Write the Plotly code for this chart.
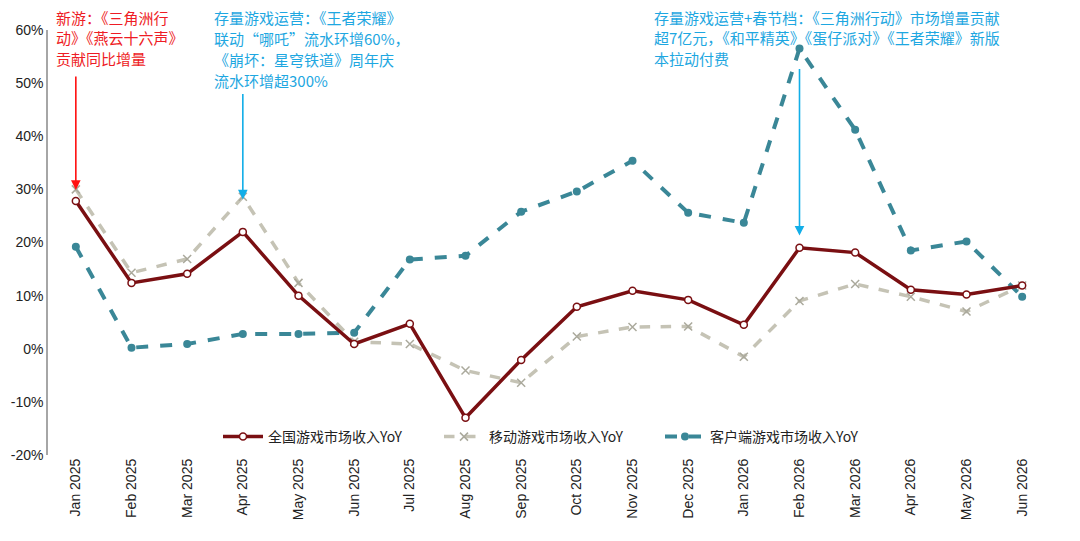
import plotly.graph_objects as go

# months on the category axis
months = ["Jan 2025", "Feb 2025", "Mar 2025", "Apr 2025", "May 2025", "Jun 2025",
          "Jul 2025", "Aug 2025", "Sep 2025", "Oct 2025", "Nov 2025", "Dec 2025",
          "Jan 2026", "Feb 2026", "Mar 2026", "Apr 2026", "May 2026", "Jun 2026"]

# YoY growth, in %
total_yoy = [27.8, 12.4, 14.1, 22.0, 10.0, 0.9, 4.7, -13.0, -2.1, 7.9, 10.9, 9.2,
             4.5, 19.0, 18.1, 11.1, 10.2, 11.9]
mobile_yoy = [30.0, 14.3, 16.9, 28.6, 12.4, 1.3, 0.9, -4.1, -6.4, 2.3, 4.1, 4.2,
              -1.5, 9.0, 12.2, 9.8, 7.0, 11.9]
client_yoy = [19.2, 0.2, 0.9, 2.8, 2.8, 3.0, 16.8, 17.5, 25.8, 29.6, 35.4, 25.6,
              23.7, 56.5, 41.2, 18.5, 20.2, 9.8]

names = ["全国游戏市场收入YoY", "移动游戏市场收入YoY", "客户端游戏市场收入YoY"]

yticks = [-20, -10, 0, 10, 20, 30, 40, 50, 60]
ytick_text = [str(v) + "%" for v in yticks]

RED = "#7a0f12"
GREY = "#c5c3b5"
TEAL = "#3a8797"

fig = go.Figure()

fig.add_trace(go.Scatter(
    x=months, y=mobile_yoy, name=names[1], mode="lines+markers", legendrank=2,
    line=dict(color=GREY, width=3.5, dash="dash"),
    marker=dict(symbol="x-thin", size=8, line=dict(color="#aaa99c", width=1.5)),
))
fig.add_trace(go.Scatter(
    x=months, y=client_yoy, name=names[2], mode="lines+markers", legendrank=3,
    line=dict(color=TEAL, width=4, dash="dash"),
    marker=dict(symbol="circle", size=8, color=TEAL),
))
fig.add_trace(go.Scatter(
    x=months, y=total_yoy, name=names[0], mode="lines+markers", legendrank=1,
    line=dict(color=RED, width=3.5),
    marker=dict(symbol="circle", size=7, color="white", line=dict(color=RED, width=1.5)),
))

cjk = "Noto Sans CJK SC"
red_txt = "#ee1c25"
blue_txt = "#1ea7e1"

# plot area in screen pixels: x 48..1050, y 30..455
def px(X):
    return (X - 48) / 1002.0

def py(Y):
    return (455 - Y) / 425.0

# each note: left pixel, line centres, lines, colour
notes = [
    (55, [18, 38, 58], ["新游：《三角洲行", "动》《燕云十六声》", "贡献同比增量"], red_txt),
    (213, [18, 39, 60, 80], ["存量游戏运营：《王者荣耀》", "联动“哪吒”流水环增60%，",
                             "《崩坏：星穹铁道》周年庆", "流水环增超300%"], blue_txt),
    (653, [18, 38, 58], ["存量游戏运营+春节档：《三角洲行动》市场增量贡献",
                         "超7亿元，《和平精英》《蛋仔派对》《王者荣耀》新版", "本拉动付费"], blue_txt),
]
for left, ys, lines, col in notes:
    for yy, line in zip(ys, lines):
        fig.add_annotation(x=px(left), y=py(yy), xref="paper", yref="paper", text=line,
                           showarrow=False, xanchor="left", yanchor="middle", align="left",
                           borderpad=0, font=dict(family=cjk, size=15, color=col))

# arrows
arrows = [("Jan 2025", 29.9, -115, "#ff1010"),
          ("Apr 2025", 28.1, -107, "#12aee8"),
          ("Feb 2026", 21.3, -168, "#12aee8")]
for xa, ya, ay, c in arrows:
    fig.add_annotation(x=xa, y=ya, xref="x", yref="y", text="", showarrow=True,
                       ax=0, ay=ay, arrowhead=2, arrowsize=1.2, arrowwidth=1.6,
                       arrowcolor=c, standoff=0)

fig.update_layout(
    width=1080, height=541,
    margin=dict(l=40, r=38, t=22, b=94),
    paper_bgcolor="white", plot_bgcolor="white",
    font=dict(family="Liberation Sans, Arial", size=13, color="#222"),
    showlegend=True,
    legend=dict(orientation="h", x=px(218), xanchor="left", y=py(437), yanchor="middle",
                font=dict(family=cjk, size=14, color="#222"), bgcolor="rgba(0,0,0,0)",
                entrywidth=166, entrywidthmode="pixels", itemwidth=40, tracegroupgap=0),
    xaxis=dict(type="category", categoryarray=months, range=[-0.5, 17.5],
               showgrid=False, showline=False, ticks="", tickangle=-90,
               automargin=False, tickfont=dict(size=14, color="#222")),
    xaxis2=dict(overlaying="x", anchor="free", position=0.25, range=[-0.5, 17.5],
                showgrid=False, showline=True, linecolor="#a6a6a6", linewidth=1.5,
                ticks="outside", ticklen=5, tickcolor="#a6a6a6",
                tickvals=[i - 0.5 for i in range(len(months) + 1)],
                showticklabels=False, zeroline=False),
    yaxis=dict(range=[-20, 60], tickvals=yticks, ticktext=ytick_text, showgrid=False,
               zeroline=False, showline=True, linecolor="#a6a6a6", linewidth=1.5,
               automargin=False, ticks="", tickfont=dict(size=14, color="#222")),
)

fig.write_html("out.html")
